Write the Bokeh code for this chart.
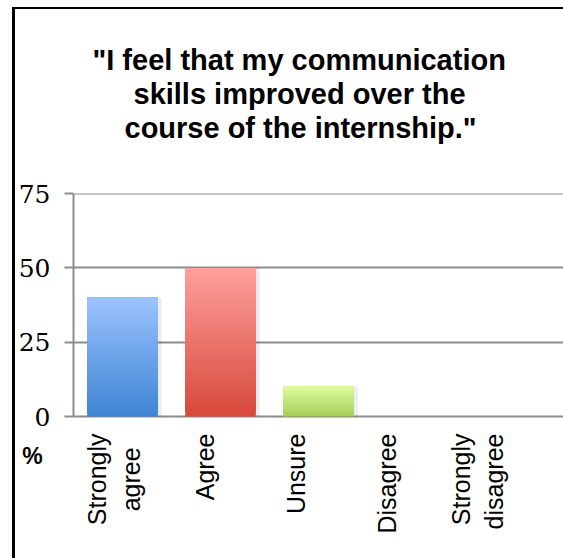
import math
import numpy as np
from bokeh.plotting import figure
from bokeh.layouts import column
from bokeh.models import (ColumnDataSource, Range1d, LinearAxis, FixedTicker, Title)
from bokeh.transform import dodge
from bokeh.embed import file_html
from bokeh.resources import INLINE

# ---- data ----
categories = ["Strongly agree", "Agree", "Unsure", "Disagree", "Strongly disagree"]
category_labels = ["Strongly\nagree\u00a0\u00a0", "Agree", "Unsure", "Disagree", "Strongly\ndisagree"]
percent = [40, 50, 10, 0, 0]
y_ticks = [0, 25, 50, 75]
unit_label = "%"
title_lines = ['"I feel that my communication', "skills improved over the",
               'course of the internship."']

# ---- styles ----
top_colors = ["#9cc3ff", "#ff9f9c", "#ddfa9e", "#9cc3ff", "#9cc3ff"]
bottom_colors = ["#3e84d3", "#d6493b", "#a6cf58", "#3e84d3", "#3e84d3"]
grid_color = "#8c8c8c"
title_offsets = [19, 60, 51]   # left offsets (px) that centre each title line


def hex2rgb(h):
    h = h.lstrip("#")
    return np.array([int(h[i:i + 2], 16) for i in (0, 2, 4)], dtype=float)


def rgb2hex(c):
    return "#%02x%02x%02x" % tuple(int(round(v)) for v in c)


pos = [i + 0.5 for i in range(len(categories))]  # category slot centres

# gradient: each slice runs from its start up to the bar top; later ones paint over
N = 40
xs, bots, tops, cols = [], [], [], []
for x, v, tc, bc in zip(pos, percent, top_colors, bottom_colors):
    if v <= 0:
        continue
    c0, c1 = hex2rgb(bc), hex2rgb(tc)
    for k in range(N):
        xs.append(x)
        bots.append(v * k / N)
        tops.append(v)
        t = (k + 0.5) / N
        cols.append(rgb2hex(c0 + (c1 - c0) * t))
slices = ColumnDataSource(dict(x=xs, bottom=bots, top=tops, color=cols))
bars = ColumnDataSource(dict(x=pos, top=percent))

p = figure(x_range=Range1d(0, len(categories)), y_range=Range1d(-13.1, 75.05),
           width=563, height=558, output_backend="svg", toolbar_location=None,
           x_axis_location=None, title_location=None,
           min_border_left=73, min_border_right=0,
           min_border_top=193, min_border_bottom=103)
p.outline_line_color = None
p.background_fill_color = "white"
p.border_fill_color = None

# title lines (first added sits nearest the plot)
p.add_layout(Title(text=" ", standoff=16, text_font="Liberation Sans",
                   text_font_size="29px"), "above")
for line, off in reversed(list(zip(title_lines, title_offsets))):
    p.add_layout(Title(text=line, align="left", offset=off, standoff=0,
                       text_font="Liberation Sans", text_font_style="bold",
                       text_font_size="29px", text_color="black"), "above")

# grid
p.xgrid.visible = False
p.ygrid.ticker = FixedTicker(ticks=y_ticks)
p.ygrid.grid_line_color = grid_color
p.ygrid.grid_line_width = 2

# y axis
ya = p.yaxis[0]
ya.ticker = FixedTicker(ticks=y_ticks)
ya.bounds = (min(y_ticks), max(y_ticks))
ya.axis_line_color = grid_color
ya.axis_line_width = 2
ya.major_tick_line_color = grid_color
ya.major_tick_line_width = 2
ya.major_tick_out = 9
ya.major_tick_in = 0
ya.minor_tick_line_color = None
ya.major_label_standoff = 14
ya.major_label_text_font = "DejaVu Serif"
ya.major_label_text_font_size = "25px"
ya.major_label_text_color = "black"
ya.axis_label = unit_label
ya.axis_label_text_font = "Liberation Sans"
ya.axis_label_text_font_style = "bold"
ya.axis_label_text_font_size = "23px"
ya.axis_label_text_color = "black"
ya.axis_label_standoff = -27
if hasattr(ya, "axis_label_orientation"):
    ya.axis_label_orientation = "horizontal"
if hasattr(ya, "axis_label_align"):
    ya.axis_label_align = "start"

# label axis below (category label positions)
p.extra_x_ranges = {"lab": Range1d(0.056, 5.444)}
xa = LinearAxis(x_range_name="lab", ticker=FixedTicker(ticks=pos))
xa.major_label_overrides = {x: lab for x, lab in zip(pos, category_labels)}
xa.axis_line_color = None
xa.major_tick_line_color = None
xa.minor_tick_line_color = None
xa.major_tick_in = 0
xa.major_tick_out = 0
xa.major_label_orientation = math.pi / 2
xa.major_label_standoff = -22
xa.major_label_text_font = "Liberation Sans"
xa.major_label_text_font_size = "25px"
xa.major_label_text_color = "black"
p.add_layout(xa, "below")

# shadows and gradient bars
p.vbar(x=dodge("x", 0.04), top="top", width=0.72, source=bars,
       fill_color="black", fill_alpha=0.07, line_color=None)
p.vbar(x="x", bottom="bottom", top="top", width=0.72, source=slices,
       fill_color="color", line_color=None)

# chart frame lines (left and top), painted behind the transparent plot border
root = column(p, styles={
    "background-color": "white",
    "background-image": "linear-gradient(black, black), linear-gradient(black, black)",
    "background-repeat": "no-repeat",
    "background-position": "12px 7px, 12px 7px",
    "background-size": "3px 551px, 551px 2px",
})

open("out.html", "w").write(file_html(root, INLINE))
